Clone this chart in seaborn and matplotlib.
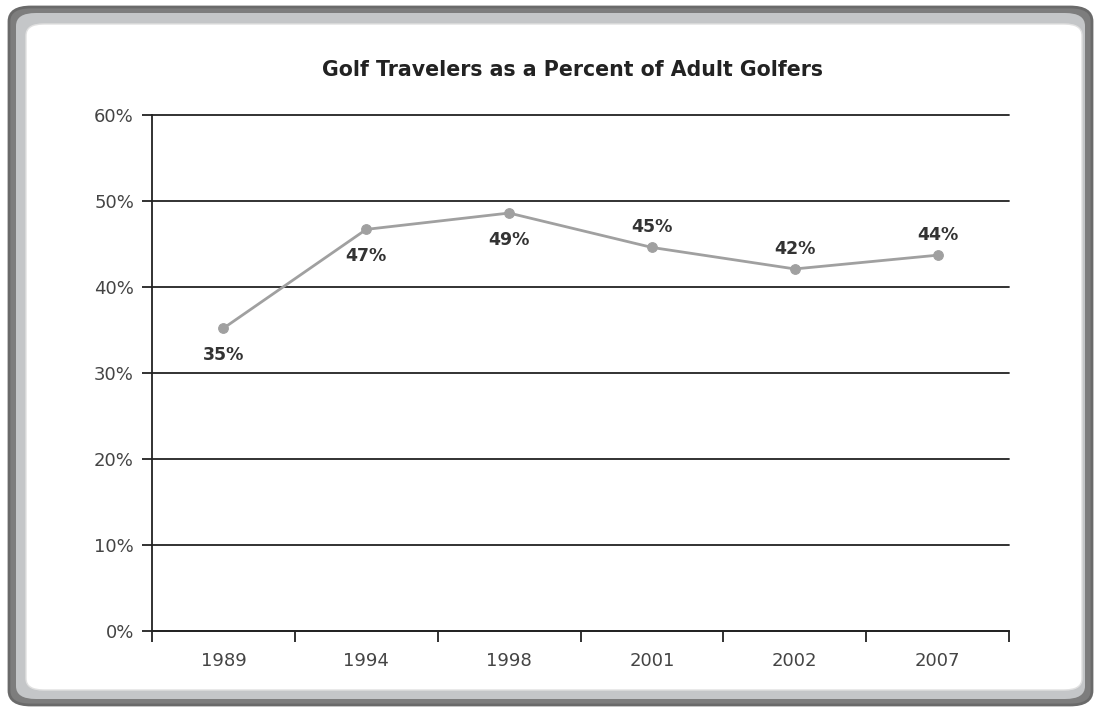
import matplotlib
matplotlib.use("Agg")
import matplotlib.pyplot as plt
from matplotlib.patches import FancyBboxPatch
import seaborn as sns
import pandas as pd
import numpy as np

years = ["1989", "1994", "1998", "2001", "2002", "2007"]
values = [35.2, 46.7, 48.6, 44.6, 42.1, 43.7]
labels = ["35%", "47%", "49%", "45%", "42%", "44%"]
label_below = [True, True, True, False, False, False]
y_ticks = [0, 10, 20, 30, 40, 50, 60]

sns.set_theme(style="white")
plt.rcParams['font.family'] = ['DejaVu Sans']

fig = plt.figure(figsize=(10.99, 7.13), dpi=100)
W, H = 1099, 713

# frame
outer = FancyBboxPatch((9 / W, 8 / H), 1083 / W, 698 / H,
                       boxstyle="round,pad=0,rounding_size=0.02",
                       transform=fig.transFigure, facecolor="#7d7d7d",
                       edgecolor="#6a6a6a", linewidth=2, zorder=0)
mid = FancyBboxPatch((16 / W, 14 / H), 1069 / W, 686 / H,
                     boxstyle="round,pad=0,rounding_size=0.018",
                     transform=fig.transFigure, facecolor="#c4c6c8",
                     edgecolor="none", zorder=0)
inner = FancyBboxPatch((26 / W, 23 / H), 1056 / W, 666 / H,
                       boxstyle="round,pad=0,rounding_size=0.016",
                       transform=fig.transFigure, facecolor="white",
                       edgecolor="#e0e0e0", linewidth=1, zorder=0)
for p in (outer, mid, inner):
    fig.patches.append(p)

ax = fig.add_axes([152 / W, 1 - 631 / H, (1009 - 152) / W, (631 - 115) / H])
ax.set_zorder(5)
ax.set_facecolor("none")

df = pd.DataFrame({"year": years, "pos": np.arange(len(years)), "value": values})

for t in y_ticks:
    ax.axhline(t, color="#222222", linewidth=1.3, zorder=1, clip_on=False)

sns.lineplot(data=df, x="pos", y="value", ax=ax, color="#a0a0a0",
             linewidth=2, marker="o", markersize=7, markeredgecolor="#a0a0a0",
             zorder=3)

for i, (v, lab, below) in enumerate(zip(values, labels, label_below)):
    off = -27 if below else 20
    ax.annotate(lab, (i, v), xytext=(0, off), textcoords="offset pixels",
                ha="center", va="center", fontsize=12.5, fontweight="bold",
                color="#333333")

ax.set_xlim(-0.5, len(years) - 0.5)
ax.set_ylim(0, 60)
ax.set_yticks(y_ticks)
ax.set_yticklabels([f"{t}%" for t in y_ticks], fontsize=13, color="#444444")
ax.set_xticks(np.arange(-0.5, len(years)))
ax.set_xticklabels([])
ax.set_xticks(np.arange(len(years)), minor=True)
ax.set_xticklabels(years, minor=True, fontsize=13, color="#444444")
ax.tick_params(axis="x", which="major", direction="out", length=8, width=1.3,
               color="#222222", bottom=True)
ax.tick_params(axis="x", which="minor", length=0, pad=15)
ax.tick_params(axis="y", direction="out", length=7, width=1.3, color="#222222",
               left=True, pad=6)
ax.set_xlabel("")
ax.set_ylabel("")

for s in ["top", "right"]:
    ax.spines[s].set_visible(False)
ax.spines["left"].set_color("#222222")
ax.spines["left"].set_linewidth(1.3)
ax.spines["bottom"].set_color("#222222")
ax.spines["bottom"].set_linewidth(1.3)

fig.text(572 / W, 1 - 70 / H, "Golf Travelers as a Percent of Adult Golfers",
         ha="center", va="center", fontsize=14.8, fontweight="bold", color="#222222")

fig.savefig("out.png", dpi=100)
